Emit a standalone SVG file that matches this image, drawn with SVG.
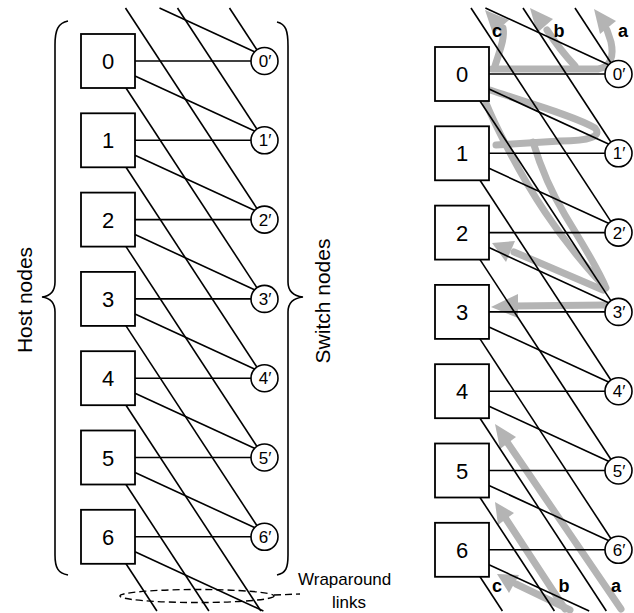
<svg xmlns="http://www.w3.org/2000/svg" width="634" height="613" viewBox="0 0 634 613">
<style>
.box{fill:#fff;stroke:#000;stroke-width:1.8}
.sw{fill:#fff;stroke:#000;stroke-width:1.6}
.ln{stroke:#000;stroke-width:1.6;fill:none}
.br{stroke:#000;stroke-width:1.6;fill:none}
.gr{stroke:#b4b4b4;stroke-width:7;fill:none;stroke-linecap:round;stroke-linejoin:round}
.ga{fill:#b4b4b4;stroke:none}
.hl{font-family:"Liberation Sans","DejaVu Sans",Arial,sans-serif;font-size:22px;text-anchor:middle}
.sl{font-family:"Liberation Sans","DejaVu Sans",Arial,sans-serif;font-size:17px;text-anchor:middle}
.lab{font-family:"Liberation Sans","DejaVu Sans",Arial,sans-serif;font-size:21px;text-anchor:middle}
.small{font-family:"Liberation Sans","DejaVu Sans",Arial,sans-serif;font-size:17px}
.bold{font-family:"Liberation Sans","DejaVu Sans",Arial,sans-serif;font-size:18px;font-weight:bold;text-anchor:middle}
.dash{stroke:#000;stroke-width:1.4;fill:none;stroke-dasharray:7 4}
</style>
<rect width="634" height="613" fill="#fff"/>

<!-- gray routes (right diagram) -->
<g id="routes">
<path class="gr" d="M 492 69 L 598 69 Q 616 66 611 42 L 607 30"/>
<polygon class="ga" points="594,9 616,21 600,34"/>
<path class="gr" d="M 575 66 Q 560 50 547 30"/>
<polygon class="ga" points="530,8 553,19 537,33"/>
<path class="gr" d="M 495 66 C 500 50 505 38 503 28"/>
<polygon class="ga" points="485,10 509,20 493,34"/>
<path class="gr" d="M 490 90 C 525 102 575 116 595 128 C 602 136 590 141 560 141 L 496 145"/>
<path class="gr" d="M 486 103 C 495 125 520 175 545 212 C 565 242 590 272 606 288 C 598 268 580 240 565 215 C 550 190 540 165 533 142"/>
<path class="gr" d="M 603 290 C 580 280 545 265 514 252"/>
<polygon class="ga" points="492,243 515,241 506,262"/>
<path class="gr" d="M 606 305 L 514 306"/>
<polygon class="ga" points="491,307 518,294 518,318"/>
<path class="gr" d="M 621 609 L 507 442"/>
<polygon class="ga" points="495,424 516,437 500,449"/>
<path class="gr" d="M 565 609 L 506 519"/>
<polygon class="ga" points="495,502 514,513 498,525"/>
<path class="gr" d="M 570 610 Q 545 598 516 584"/>
<polygon class="ga" points="497,574 519,575 509,593"/>
</g>

<!-- connectors -->
<g id="connectors" class="ln">
<!-- left: horizontal -->
<line x1="135" y1="61" x2="251" y2="61"/>
<line x1="135" y1="140.3" x2="251" y2="140.3"/>
<line x1="135" y1="219.6" x2="251" y2="219.6"/>
<line x1="135" y1="298.9" x2="251" y2="298.9"/>
<line x1="135" y1="378.2" x2="251" y2="378.2"/>
<line x1="135" y1="457.5" x2="251" y2="457.5"/>
<line x1="135" y1="536.8" x2="251" y2="536.8"/>
<!-- left: moderate -->
<line x1="135" y1="76" x2="255" y2="131.3"/>
<line x1="135" y1="155.3" x2="255" y2="210.6"/>
<line x1="135" y1="234.6" x2="255" y2="289.9"/>
<line x1="135" y1="313.9" x2="255" y2="369.2"/>
<line x1="135" y1="393.2" x2="255" y2="448.5"/>
<line x1="135" y1="472.5" x2="255" y2="527.8"/>
<line x1="135" y1="551.8" x2="263.4" y2="611"/>
<line x1="159.5" y1="8" x2="255" y2="52"/>
<!-- left: steep -->
<line x1="126" y1="88" x2="257" y2="287.9"/>
<line x1="126" y1="167.3" x2="257" y2="367.2"/>
<line x1="126" y1="246.6" x2="257" y2="446.5"/>
<line x1="126" y1="325.9" x2="257" y2="525.8"/>
<line x1="126" y1="405.2" x2="260.9" y2="611"/>
<line x1="126" y1="484.5" x2="208.9" y2="611"/>
<line x1="126" y1="563.8" x2="156.9" y2="611"/>
<line x1="229.5" y1="8" x2="257" y2="50"/>
<line x1="177.5" y1="8" x2="257" y2="129.3"/>
<line x1="125.5" y1="8" x2="257" y2="208.6"/>
<!-- right: horizontal -->
<line x1="489" y1="74" x2="605" y2="74"/>
<line x1="489" y1="153.3" x2="605" y2="153.3"/>
<line x1="489" y1="232.6" x2="605" y2="232.6"/>
<line x1="489" y1="311.9" x2="605" y2="311.9"/>
<line x1="489" y1="391.2" x2="605" y2="391.2"/>
<line x1="489" y1="470.5" x2="605" y2="470.5"/>
<line x1="489" y1="549.8" x2="605" y2="549.8"/>
<!-- right: moderate -->
<line x1="489" y1="89" x2="609" y2="144.3"/>
<line x1="489" y1="168.3" x2="609" y2="223.6"/>
<line x1="489" y1="247.6" x2="609" y2="302.9"/>
<line x1="489" y1="326.9" x2="609" y2="382.2"/>
<line x1="489" y1="406.2" x2="609" y2="461.5"/>
<line x1="489" y1="485.5" x2="609" y2="540.8"/>
<line x1="489" y1="564.8" x2="589.2" y2="611"/>
<line x1="485.4" y1="8" x2="609" y2="65"/>
<!-- right: steep -->
<line x1="480" y1="101" x2="611" y2="300.9"/>
<line x1="480" y1="180.3" x2="611" y2="380.2"/>
<line x1="480" y1="259.6" x2="611" y2="459.5"/>
<line x1="480" y1="338.9" x2="611" y2="538.8"/>
<line x1="480" y1="418.2" x2="606.3" y2="611"/>
<line x1="480" y1="497.5" x2="554.4" y2="611"/>
<line x1="480" y1="576.8" x2="502.4" y2="611"/>
<line x1="575" y1="8" x2="611" y2="63"/>
<line x1="523" y1="8" x2="611" y2="142.3"/>
<line x1="471" y1="8" x2="611" y2="221.6"/>
</g>

<!-- left host nodes -->
<g id="host-0"><rect class="box" x="81" y="34" width="54" height="54"/><text class="hl" x="108" y="69">0</text></g>
<g id="host-1"><rect class="box" x="81" y="113.3" width="54" height="54"/><text class="hl" x="108" y="148.3">1</text></g>
<g id="host-2"><rect class="box" x="81" y="192.6" width="54" height="54"/><text class="hl" x="108" y="227.6">2</text></g>
<g id="host-3"><rect class="box" x="81" y="271.9" width="54" height="54"/><text class="hl" x="108" y="306.9">3</text></g>
<g id="host-4"><rect class="box" x="81" y="351.2" width="54" height="54"/><text class="hl" x="108" y="386.2">4</text></g>
<g id="host-5"><rect class="box" x="81" y="430.5" width="54" height="54"/><text class="hl" x="108" y="465.5">5</text></g>
<g id="host-6"><rect class="box" x="81" y="509.8" width="54" height="54"/><text class="hl" x="108" y="544.8">6</text></g>

<!-- left switch nodes -->
<g id="switch-0"><circle class="sw" cx="264.5" cy="61" r="13.5"/><text class="sl" x="265" y="67">0′</text></g>
<g id="switch-1"><circle class="sw" cx="264.5" cy="140.3" r="13.5"/><text class="sl" x="265" y="146.3">1′</text></g>
<g id="switch-2"><circle class="sw" cx="264.5" cy="219.6" r="13.5"/><text class="sl" x="265" y="225.6">2′</text></g>
<g id="switch-3"><circle class="sw" cx="264.5" cy="298.9" r="13.5"/><text class="sl" x="265" y="304.9">3′</text></g>
<g id="switch-4"><circle class="sw" cx="264.5" cy="378.2" r="13.5"/><text class="sl" x="265" y="384.2">4′</text></g>
<g id="switch-5"><circle class="sw" cx="264.5" cy="457.5" r="13.5"/><text class="sl" x="265" y="463.5">5′</text></g>
<g id="switch-6"><circle class="sw" cx="264.5" cy="536.8" r="13.5"/><text class="sl" x="265" y="542.8">6′</text></g>

<!-- right host nodes -->
<g id="host-0-route"><rect class="box" x="435" y="47" width="54" height="54"/><text class="hl" x="462" y="82">0</text></g>
<g id="host-1-route"><rect class="box" x="435" y="126.3" width="54" height="54"/><text class="hl" x="462" y="161.3">1</text></g>
<g id="host-2-route"><rect class="box" x="435" y="205.6" width="54" height="54"/><text class="hl" x="462" y="240.6">2</text></g>
<g id="host-3-route"><rect class="box" x="435" y="284.9" width="54" height="54"/><text class="hl" x="462" y="319.9">3</text></g>
<g id="host-4-route"><rect class="box" x="435" y="364.2" width="54" height="54"/><text class="hl" x="462" y="399.2">4</text></g>
<g id="host-5-route"><rect class="box" x="435" y="443.5" width="54" height="54"/><text class="hl" x="462" y="478.5">5</text></g>
<g id="host-6-route"><rect class="box" x="435" y="522.8" width="54" height="54"/><text class="hl" x="462" y="557.8">6</text></g>

<!-- right switch nodes -->
<g id="switch-0-route"><circle class="sw" cx="618.5" cy="74" r="13.5"/><text class="sl" x="619" y="80">0′</text></g>
<g id="switch-1-route"><circle class="sw" cx="618.5" cy="153.3" r="13.5"/><text class="sl" x="619" y="159.3">1′</text></g>
<g id="switch-2-route"><circle class="sw" cx="618.5" cy="232.6" r="13.5"/><text class="sl" x="619" y="238.6">2′</text></g>
<g id="switch-3-route"><circle class="sw" cx="618.5" cy="311.9" r="13.5"/><text class="sl" x="619" y="317.9">3′</text></g>
<g id="switch-4-route"><circle class="sw" cx="618.5" cy="391.2" r="13.5"/><text class="sl" x="619" y="397.2">4′</text></g>
<g id="switch-5-route"><circle class="sw" cx="618.5" cy="470.5" r="13.5"/><text class="sl" x="619" y="476.5">5′</text></g>
<g id="switch-6-route"><circle class="sw" cx="618.5" cy="549.8" r="13.5"/><text class="sl" x="619" y="555.8">6′</text></g>

<!-- braces and labels -->
<g id="host-brace">
<path class="br" d="M 68 21 C 58 23 55 30 55 45 L 55 282 C 55 292 50 296 42 297 C 50 298 55 302 55 312 L 55 555 C 55 568 58 573 68 575"/>
<text class="lab" transform="translate(32,300) rotate(-90)">Host nodes</text>
</g>
<g id="switch-brace">
<path class="br" d="M 277 22 C 286 24 288 31 288 46 L 288 282 C 288 292 294 296 303 297 C 294 298 288 302 288 312 L 288 555 C 288 568 286 573 277 575"/>
<text class="lab" transform="translate(330,301) rotate(-90)">Switch nodes</text>
</g>
<g id="wraparound">
<ellipse class="dash" cx="197" cy="596" rx="77" ry="6.5"/>
<line class="dash" x1="274" y1="595" x2="300" y2="594"/>
<text class="small" x="298" y="585">Wraparound</text>
<text class="small" x="349" y="608" text-anchor="middle">links</text>
</g>
<g id="route-labels">
<text class="bold" x="497" y="37">c</text>
<text class="bold" x="559" y="37">b</text>
<text class="bold" x="623" y="37">a</text>
<text class="bold" x="497" y="592">c</text>
<text class="bold" x="564" y="592">b</text>
<text class="bold" x="616" y="592">a</text>
</g>
</svg>
